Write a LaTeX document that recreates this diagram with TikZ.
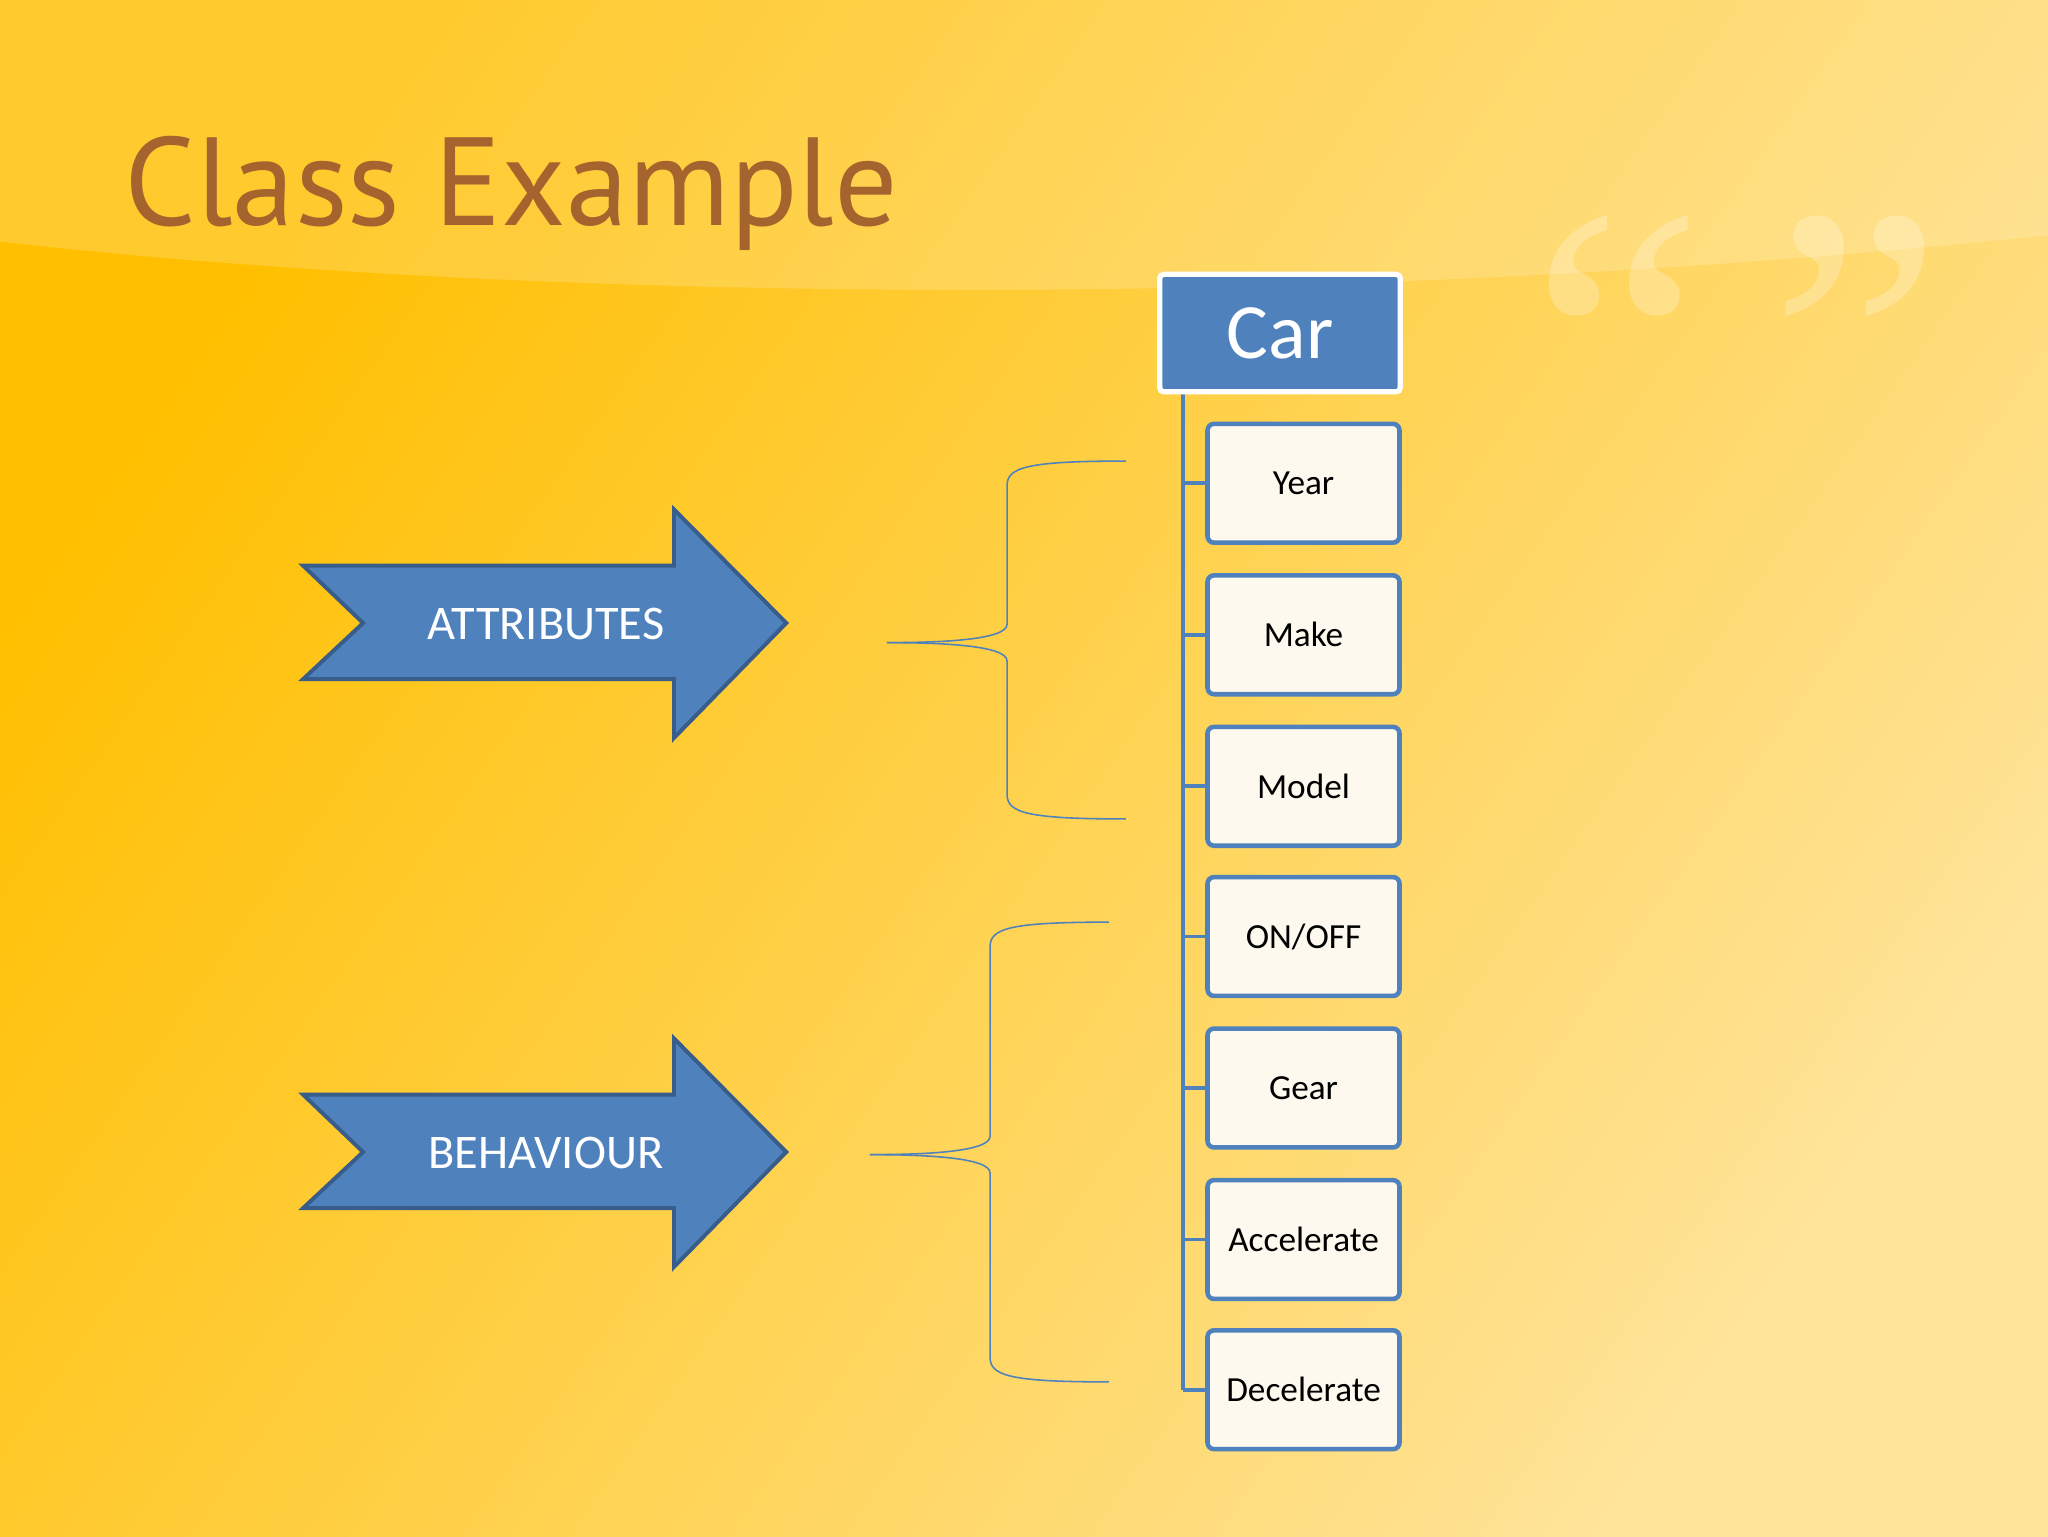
\documentclass[tikz,border=0pt]{standalone}
\usepackage{fontspec}
\setmainfont{Carlito}
\newfontfamily\titlefont{PT Sans}
\newfontfamily\quotefont{Liberation Serif}
\usetikzlibrary{shapes.geometric}
\definecolor{bbl}{HTML}{4F81BD}
\definecolor{bdk}{HTML}{385D8A}
\definecolor{brownt}{HTML}{A5642E}
\definecolor{bgA}{HTML}{FFBF00}
\definecolor{bgB}{HTML}{FFE49A}
\definecolor{itemfill}{HTML}{FDF9EE}
\tikzset{
  item/.style={draw=bbl, line width=3.5pt, fill=itemfill, rounded corners=5pt, minimum width=147pt, minimum height=91pt, font=\fontsize{27}{30}\selectfont, inner sep=0pt},
  bigarrow/.style={draw=bdk, line width=3pt, fill=bbl},
  brace/.style={draw=bbl, line width=1.2pt},
}
\begin{document}
\begin{tikzpicture}[x=1pt,y=-1pt]
\useasboundingbox (0,0) rectangle (1568,1176);
\shade[left color=bgA, right color=bgB, shading angle=55] (0,0) rectangle (1568,1176);
\fill[white, opacity=0.18] (0,0) -- (1568,0) -- (1568,180) .. controls (1000,240) and (400,230) .. (0,185) -- cycle;
\node[text=white, opacity=0.25, font=\quotefont\fontsize{300}{300}\selectfont] (quotes) at (1330,265) {“\,”};
\node[anchor=west, text=brownt, font=\titlefont\fontsize{96}{100}\selectfont] (title) at (92,148) {Class Example};

\draw[bbl, line width=3pt] (906,300) -- (906,1064);
\node[draw=white, line width=4pt, fill=bbl, text=white, minimum width=184pt, minimum height=90pt, rounded corners=3pt, font=\fontsize{60}{62}\selectfont, inner sep=0pt] (car) at (980,255) {Car};
\foreach \n/\t/\y in {year/Year/370, make/Make/486, model/Model/602, onoff/ON\slash OFF/717, gear/Gear/833, acc/Accelerate/949, dec/Decelerate/1064}{
  \node[item] (\n) at (998,\y) {\t};
  \draw[bbl, line width=3pt] (906,\y) -- (\n.west);
}

\draw[bigarrow] (232,433) -- (516,433) -- (516,390) -- (602,477) -- (516,565) -- (516,520) -- (232,520) -- (278,477) -- cycle;
\node[text=white, font=\fontsize{37}{40}\selectfont] (attr) at (418,478) {ATTRIBUTES};
\draw[bigarrow] (232,838) -- (516,838) -- (516,795) -- (602,882) -- (516,970) -- (516,925) -- (232,925) -- (278,882) -- cycle;
\node[text=white, font=\fontsize{37}{40}\selectfont] (beh) at (418,883) {BEHAVIOUR};

\coordinate (a1) at (862,353); \coordinate (a2) at (862,627); \coordinate (at) at (679,492);
\draw[brace] (a1) .. controls (785,353) and (771,358) .. (771,372) -- (771,478) .. controls (771,490) and (720,492) .. (at);
\draw[brace] (a2) .. controls (785,627) and (771,622) .. (771,608) -- (771,506) .. controls (771,494) and (720,492) .. (at);
\coordinate (b1) at (849,706); \coordinate (b2) at (849,1058); \coordinate (bt) at (666,884);
\draw[brace] (b1) .. controls (772,706) and (758,711) .. (758,725) -- (758,870) .. controls (758,882) and (707,884) .. (bt);
\draw[brace] (b2) .. controls (772,1058) and (758,1053) .. (758,1039) -- (758,898) .. controls (758,886) and (707,884) .. (bt);
\end{tikzpicture}
\end{document}
